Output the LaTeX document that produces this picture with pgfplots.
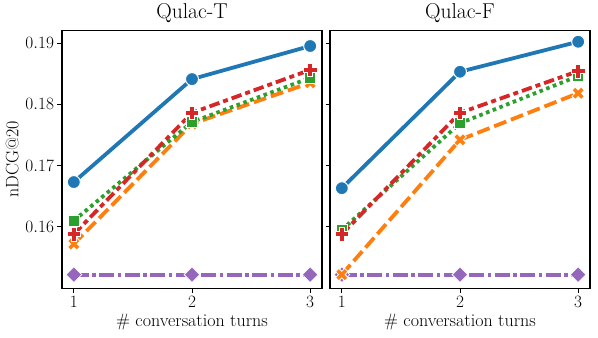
\documentclass[border=0pt]{standalone}
\usepackage{pgfplots}
\pgfplotsset{compat=1.18}

\definecolor{cblue}{HTML}{1F77B4}
\definecolor{corange}{HTML}{FF7F0E}
\definecolor{cgreen}{HTML}{2CA02C}
\definecolor{cred}{HTML}{D62728}
\definecolor{cpurple}{HTML}{9467BD}

% filled plus sign (seaborn "P"); rotated 45 degrees it gives the filled "X"
\pgfdeclareplotmark{plusfill}{%
  \pgfpathmoveto{\pgfqpoint{-0.36\pgfplotmarksize}{\pgfplotmarksize}}%
  \pgfpathlineto{\pgfqpoint{0.36\pgfplotmarksize}{\pgfplotmarksize}}%
  \pgfpathlineto{\pgfqpoint{0.36\pgfplotmarksize}{0.36\pgfplotmarksize}}%
  \pgfpathlineto{\pgfqpoint{\pgfplotmarksize}{0.36\pgfplotmarksize}}%
  \pgfpathlineto{\pgfqpoint{\pgfplotmarksize}{-0.36\pgfplotmarksize}}%
  \pgfpathlineto{\pgfqpoint{0.36\pgfplotmarksize}{-0.36\pgfplotmarksize}}%
  \pgfpathlineto{\pgfqpoint{0.36\pgfplotmarksize}{-\pgfplotmarksize}}%
  \pgfpathlineto{\pgfqpoint{-0.36\pgfplotmarksize}{-\pgfplotmarksize}}%
  \pgfpathlineto{\pgfqpoint{-0.36\pgfplotmarksize}{-0.36\pgfplotmarksize}}%
  \pgfpathlineto{\pgfqpoint{-\pgfplotmarksize}{-0.36\pgfplotmarksize}}%
  \pgfpathlineto{\pgfqpoint{-\pgfplotmarksize}{0.36\pgfplotmarksize}}%
  \pgfpathlineto{\pgfqpoint{-0.36\pgfplotmarksize}{0.36\pgfplotmarksize}}%
  \pgfpathclose
  \pgfusepathqfillstroke
}

\pgfplotsset{
  panel/.style={
    width=260pt, height=258pt, scale only axis,
    xmin=0.9, xmax=3.1, ymin=0.15, ymax=0.1921,
    xtick={1,2,3}, ytick={0.16,0.17,0.18,0.19},
    tick align=outside, xtick pos=bottom, ytick pos=left,
    major tick length=4.5pt,
    tick style={black, line width=0.9pt},
    axis line style={line width=1.1pt},
    tick label style={font=\fontsize{16}{18}\selectfont},
    label style={font=\fontsize{18}{20}\selectfont},
    title style={font=\fontsize{21.5}{23}\selectfont, yshift=-2pt},
    xlabel={\# conversation turns},
    yticklabel style={/pgf/number format/.cd, fixed, fixed zerofill, precision=2},
    clip=false,
  },
  lblue/.style={cblue, line width=3.8pt, line join=round, solid,
    mark=*, mark size=6.5pt, mark options={solid, draw=white, line width=1pt, fill=cblue}},
  lorange/.style={corange, line width=3.8pt, dash pattern=on 13pt off 5pt,
    mark=plusfill, mark size=6.5pt, mark options={solid, rotate=45, draw=white, line width=0.8pt, fill=corange}},
  lgreen/.style={cgreen, line width=3.8pt, dash pattern=on 3.6pt off 3.6pt,
    mark=square*, mark size=5.4pt, mark options={solid, draw=white, line width=0.8pt, fill=cgreen}},
  lred/.style={cred, line width=3.8pt, dash pattern=on 10.5pt off 4pt on 5pt off 4pt,
    mark=plusfill, mark size=6.8pt, mark options={solid, draw=white, line width=0.8pt, fill=cred}},
  lpurple/.style={cpurple, line width=3.8pt, dash pattern=on 15pt off 3.5pt on 3.5pt off 3.5pt,
    mark=square*, mark size=5.6pt, mark options={solid, rotate=45, draw=white, line width=0.8pt, fill=cpurple}},
}

\begin{document}
\begin{tikzpicture}
\begin{axis}[panel, at={(0pt,0pt)}, anchor=south west,
    title={Qulac-T}, ylabel={nDCG@20}]
\addplot[lpurple] coordinates {(1,0.1522) (2,0.1522) (3,0.1522)};
\addplot[lorange] coordinates {(1,0.1572) (2,0.1768) (3,0.1835)};
\addplot[lgreen] coordinates {(1,0.1610) (2,0.1771) (3,0.1843)};
\addplot[lred] coordinates {(1,0.1588) (2,0.1786) (3,0.1856)};
\addplot[lblue] coordinates {(1,0.1673) (2,0.1841) (3,0.1895)};
\end{axis}
\begin{axis}[panel, at={(268pt,0pt)}, anchor=south west,
    title={Qulac-F}, yticklabels={}]
\addplot[lpurple] coordinates {(1,0.1522) (2,0.1522) (3,0.1522)};
\addplot[lorange] coordinates {(1,0.1522) (2,0.1742) (3,0.1818)};
\addplot[lgreen] coordinates {(1,0.1595) (2,0.1769) (3,0.1846)};
\addplot[lred] coordinates {(1,0.1588) (2,0.1786) (3,0.1854)};
\addplot[lblue] coordinates {(1,0.1663) (2,0.1853) (3,0.1902)};
\end{axis}
\useasboundingbox (-62pt,-49pt) rectangle (536pt,283pt);
\end{tikzpicture}
\end{document}
